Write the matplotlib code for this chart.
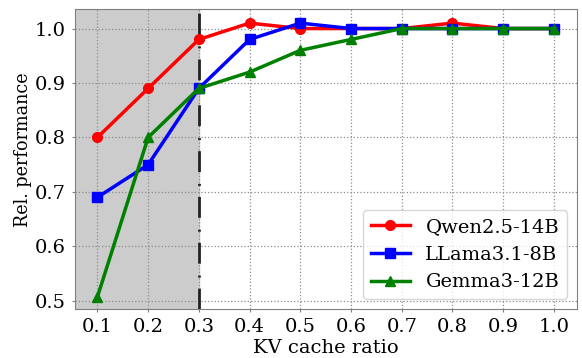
import matplotlib
matplotlib.use("Agg")
import matplotlib.pyplot as plt

ratios = [0.1, 0.2, 0.3, 0.4, 0.5, 0.6, 0.7, 0.8, 0.9, 1.0]
qwen = [0.80, 0.89, 0.98, 1.01, 1.00, 1.00, 1.00, 1.01, 1.00, 1.00]
llama = [0.69, 0.75, 0.89, 0.98, 1.01, 1.00, 1.00, 1.00, 1.00, 1.00]
gemma = [0.507, 0.80, 0.89, 0.92, 0.96, 0.98, 1.00, 1.00, 1.00, 1.00]
cutoff = 0.3

plt.rcParams["font.family"] = "DejaVu Serif"
plt.rcParams["font.size"] = 14

fig, ax = plt.subplots(figsize=(5.82, 3.58), dpi=100)
fig.subplots_adjust(left=0.129, right=0.991, top=0.975, bottom=0.137)

ax.axvspan(0.0, cutoff, color="#cccccc", zorder=0.5)
ax.axvline(cutoff, color="#222222", linestyle=(0, (7.5, 4, 0.7, 4.3)), linewidth=2, zorder=1.6)

ax.plot(ratios, qwen, color="red", marker="o", linewidth=2.5, markersize=7, label="Qwen2.5-14B")
ax.plot(ratios, llama, color="blue", marker="s", linewidth=2.5, markersize=7, label="LLama3.1-8B")
ax.plot(ratios, gemma, color="green", marker="^", linewidth=2.5, markersize=7, label="Gemma3-12B")

ax.set_xlim(0.056, 1.045)
ax.set_ylim(0.485, 1.036)
ax.set_xticks(ratios)
ax.set_xticklabels([f"{r:.1f}" for r in ratios])
ax.set_yticks([0.5, 0.6, 0.7, 0.8, 0.9, 1.0])
ax.grid(True, linestyle=":", color="#8c8c8c", linewidth=0.9)
ax.tick_params(length=2.5, width=0.8, color="gray", pad=4)
for s in ax.spines.values():
    s.set_color("gray")

ax.set_xlabel("KV cache ratio", labelpad=2)
ax.set_ylabel("Rel. performance", fontsize=12.7)
ax.yaxis.set_label_coords(-0.085, 0.53)
ax.legend(loc="lower right", fontsize=14)

fig.savefig("out.png", dpi=100)
